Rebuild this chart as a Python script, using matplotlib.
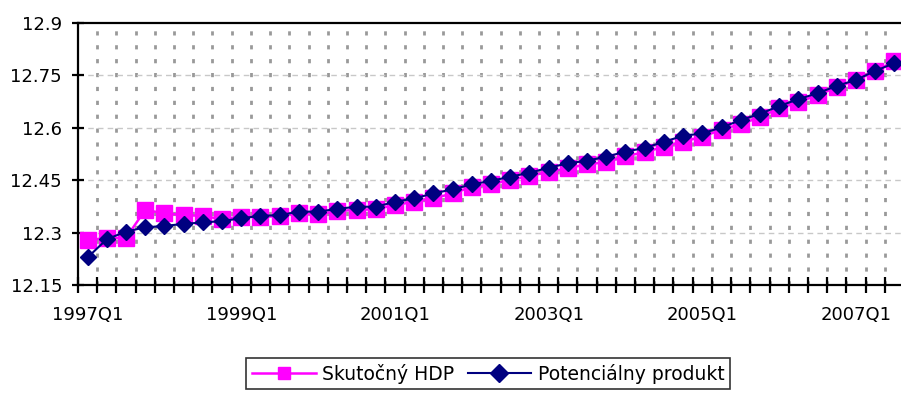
import matplotlib
matplotlib.use("Agg")
import matplotlib.pyplot as plt
import numpy as np

plt.rcParams['font.family'] = ['DejaVu Sans']

# quarters 1997Q1 .. 2007Q3
quarters = [f"{y}Q{q}" for y in range(1997, 2008) for q in range(1, 5)][:43]

skutocny_hdp = [12.279, 12.284, 12.285, 12.365, 12.355, 12.350, 12.348, 12.338, 12.346, 12.344,
                12.348, 12.355, 12.352, 12.362, 12.365, 12.367, 12.379, 12.388, 12.398, 12.412,
                12.431, 12.438, 12.451, 12.462, 12.474, 12.484, 12.496, 12.501, 12.519, 12.530,
                12.546, 12.560, 12.575, 12.594, 12.611, 12.630, 12.656, 12.673, 12.694, 12.716,
                12.737, 12.763, 12.790]
potencialny = [12.229, 12.281, 12.303, 12.315, 12.319, 12.325, 12.329, 12.333, 12.341, 12.348,
               12.350, 12.360, 12.360, 12.368, 12.374, 12.374, 12.388, 12.398, 12.412, 12.424,
               12.438, 12.448, 12.460, 12.471, 12.486, 12.498, 12.506, 12.517, 12.532, 12.542,
               12.560, 12.577, 12.584, 12.601, 12.622, 12.640, 12.662, 12.682, 12.699, 12.720,
               12.737, 12.763, 12.785]

y_ticks = [12.15, 12.3, 12.45, 12.6, 12.75, 12.9]
y_labels = ["12.15", "12.3", "12.45", "12.6", "12.75", "12.9"]

fig = plt.figure(figsize=(9.01, 3.96), dpi=100)
ax = fig.add_axes([78 / 901, 1 - 285 / 396, 826 / 901, 262 / 396])

x = np.arange(len(quarters))
ax.plot(x, skutocny_hdp, color='#FF00FF', lw=1.8, marker='s', ms=12,
        mec='#FF00FF', label='Skutočný HDP', zorder=3)
ax.plot(x, potencialny, color='#000080', lw=1.5, marker='D', ms=8,
        mec='#000080', label='Potenciálny produkt', zorder=4)

ax.set_xlim(-0.5, len(quarters) - 0.5)
ax.set_ylim(12.15, 12.9)

# category boundaries as major ticks, labels as minor ticks
ax.set_xticks(np.arange(-0.5, len(quarters), 1))
ax.set_xticklabels([])
lab_pos = x[::8]
ax.set_xticks(lab_pos, minor=True)
ax.set_xticklabels([quarters[i] for i in lab_pos], minor=True, fontsize=13)
ax.tick_params(axis='x', which='major', direction='inout', length=11, width=1.6)
ax.tick_params(axis='x', which='minor', length=0, pad=15)

ax.set_yticks(y_ticks)
ax.set_yticklabels(y_labels, fontsize=13)
ax.tick_params(axis='y', direction='inout', length=9, width=1.6, pad=7)

for xb in np.arange(0.5, len(quarters) - 0.5, 1):
    ax.axvline(xb, color='#999999', lw=2, ls=(0, (1.5, 3.5)), zorder=1)
for yv in y_ticks[1:-1]:
    ax.axhline(yv, color='#c8c8c8', lw=1, ls=(0, (4, 3)), zorder=1)

for side in ['left', 'bottom', 'top', 'right']:
    ax.spines[side].set_linewidth(1.6)
    ax.spines[side].set_color('black')

leg = fig.legend(loc='center', bbox_to_anchor=(0.542, 0.056), ncol=2, fontsize=13.5,
                 frameon=True, fancybox=False, edgecolor='black', handlelength=3.4,
                 columnspacing=0.7, handletextpad=0.35, borderpad=0.3, borderaxespad=0)
leg.get_frame().set_linewidth(1.2)
for h in leg.legend_handles:
    h.set_markersize(9)

fig.savefig('out.png', dpi=100)
